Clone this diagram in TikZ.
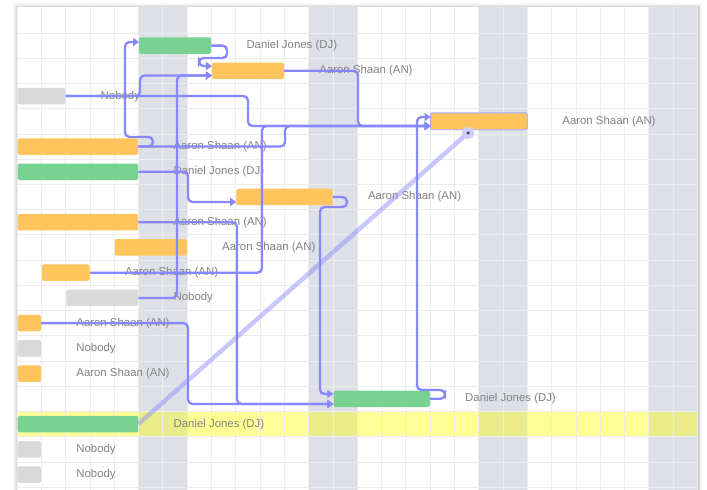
\documentclass[tikz,border=0pt]{standalone}
\usepackage{fontspec}
\setmainfont{Liberation Sans}
\usetikzlibrary{arrows.meta,calc}
\definecolor{orangebar}{RGB}{255,196,92}
\definecolor{greenbar}{RGB}{120,210,145}
\definecolor{graybar}{RGB}{217,217,217}
\definecolor{weekend}{RGB}{221,224,231}
\definecolor{gridc}{RGB}{236,236,236}
\definecolor{linkc}{RGB}{135,135,255}
\definecolor{txt}{RGB}{130,130,130}
\definecolor{hl}{RGB}{255,255,150}
\definecolor{hlw}{RGB}{235,236,140}
\newcommand\gbar[5]{\node[taskbar,fill=#5,minimum width={(#4-#3)*24.3pt-1pt}] (#1) at ({X(#3)+0.5},{Y(#2)}) {};}
\newcommand\glbl[3]{\node[lbl] (#1) at ([xshift=35pt]#2.east) {#3};}
\begin{document}
\begin{tikzpicture}[x=1pt,y=-1pt,
  declare function={X(\x)=17+24.3*\x; Y(\x)=45.6+25.23*\x;},
  taskbar/.style={inner sep=0pt, minimum height=16.5pt, rounded corners=1.5pt, anchor=west},
  lbl/.style={anchor=west, text=txt, font=\fontsize{11.4}{13}\selectfont, inner sep=0pt},
  link/.style={draw=linkc, line width=2.3pt, rounded corners=4.5pt, -{Triangle[length=6pt,width=8pt]}},
  gridline/.style={draw=gridc, line width=0.8pt},
]
\useasboundingbox (0,0) rectangle (707,490);
% card shadow
\foreach \s/\o in {4/0.02,3/0.03,2/0.04,1/0.06}{
  \fill[black,opacity=\o] (17-\s,7-\s) rectangle (698+\s,495);
}
\fill[black,opacity=0.08] (697,7) rectangle (700,495);
\fill[white] (17,7) rectangle (697,495);
% weekends
\foreach \w in {5,12,19,26}{
  \fill[weekend] ({X(\w)},7) rectangle ({X(\w+2)},495);
}
% highlighted row
\fill[hl] (17,{Y(15)-12.6}) rectangle (697,{Y(15)+12.6});
\foreach \w in {5,12,19,26}{
  \fill[hlw] ({X(\w)},{Y(15)-12.6}) rectangle ({X(\w+2)},{Y(15)+12.6});
}
% grid
\foreach \k in {0,...,28}{
  \draw[gridline] ({X(\k)},7) -- ({X(\k)},495);
}
\foreach \k in {0,...,18}{
  \draw[gridline] (17,{33+25.23*\k}) -- (697,{33+25.23*\k});
}
% bars
\gbar{b0}{0}{5}{8}{greenbar}
\gbar{b1}{1}{8}{11}{orangebar}
\gbar{b2}{2}{0}{2}{graybar}
\gbar{b3}{3}{17}{21}{orangebar}
\gbar{b4}{4}{0}{5}{orangebar}
\gbar{b5}{5}{0}{5}{greenbar}
\gbar{b6}{6}{9}{13}{orangebar}
\gbar{b7}{7}{0}{5}{orangebar}
\gbar{b8}{8}{4}{7}{orangebar}
\gbar{b9}{9}{1}{3}{orangebar}
\gbar{b10}{10}{2}{5}{graybar}
\gbar{b11}{11}{0}{1}{orangebar}
\gbar{b12}{12}{0}{1}{graybar}
\gbar{b13}{13}{0}{1}{orangebar}
\gbar{b14}{14}{13}{17}{greenbar}
\gbar{b15}{15}{0}{5}{greenbar}
\gbar{b16}{16}{0}{1}{graybar}
\gbar{b17}{17}{0}{1}{graybar}
\draw[linkc!75, line width=0.9pt, rounded corners=1.5pt] (b3.north west) rectangle (b3.south east);
% labels
\glbl{l0}{b0}{Daniel Jones (DJ)}
\glbl{l1}{b1}{Aaron Shaan (AN)}
\glbl{l2}{b2}{Nobody}
\glbl{l3}{b3}{Aaron Shaan (AN)}
\glbl{l4}{b4}{Aaron Shaan (AN)}
\glbl{l5}{b5}{Daniel Jones (DJ)}
\glbl{l6}{b6}{Aaron Shaan (AN)}
\glbl{l7}{b7}{Aaron Shaan (AN)}
\glbl{l8}{b8}{Aaron Shaan (AN)}
\glbl{l9}{b9}{Aaron Shaan (AN)}
\glbl{l10}{b10}{Nobody}
\glbl{l11}{b11}{Aaron Shaan (AN)}
\glbl{l12}{b12}{Nobody}
\glbl{l13}{b13}{Aaron Shaan (AN)}
\glbl{l14}{b14}{Daniel Jones (DJ)}
\glbl{l15}{b15}{Daniel Jones (DJ)}
\glbl{l16}{b16}{Nobody}
\glbl{l17}{b17}{Nobody}
% links
\draw[link] (b0.east) -| (227,58) -| (199,66) -- (b1.west |- 0,66);
\draw[link] (b2.east) -| (140,75.5) -- (b1.west |- 0,75.5);
\draw[link] (b10.east) -| (177,75.5) -- (b1.west |- 0,75.5);
\draw[link] (b4.east) -| (153,137) -| (125,42) -- (b0.west |- 0,42);
\draw[link] (b2.east) -| (248,126) -- (b3.west |- 0,126);
\draw[link] (b1.east) -| (358,126) -- (b3.west |- 0,126);
\draw[link] (b4.east) -| (285,126) -- (b3.west |- 0,126);
\draw[link] (b9.east) -| (262,126) -- (b3.west |- 0,126);
\draw[link] (b14.east) -| (445,390) -| (417,117) -- (b3.west |- 0,117);
\draw[link] (b5.east) -| (188,202) -- (b6.west |- 0,202);
\draw[link] (b7.east) -| (237,404) -- (b14.west |- 0,404);
\draw[link] (b11.east) -| (188,404) -- (b14.west |- 0,404);
\draw[link] (b6.east) -| (347,207) -| (320,394) -- (b14.west |- 0,394);
% drag line
\coordinate (dotpos) at (468,133);
\draw[linkc, opacity=0.45, line width=4.5pt] (b15.east) -- (dotpos);
\node[circle, fill=linkc!40, inner sep=0pt, minimum size=12pt] (dot) at (dotpos) {};
\node[circle, fill=black!70, inner sep=0pt, minimum size=3.5pt] (dotc) at (dot.center) {};
\end{tikzpicture}
\end{document}
